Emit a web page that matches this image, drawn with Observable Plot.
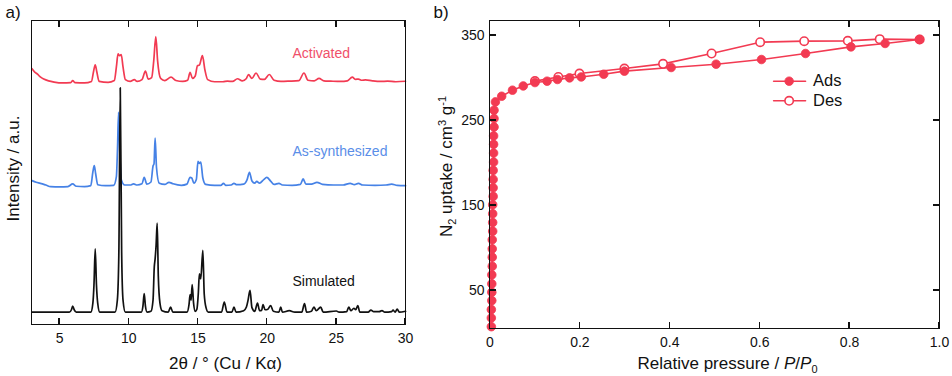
<!DOCTYPE html>
<html>
<head>
<meta charset="utf-8">
<script src="https://cdn.jsdelivr.net/npm/d3@7"></script>
<script src="https://cdn.jsdelivr.net/npm/@observablehq/plot@0.6"></script>
<style>
  html, body { margin: 0; padding: 0; background: #fff; }
  #wrap { position: relative; width: 952px; height: 376px; overflow: hidden; }
  .box { position: absolute; border: 1.6px solid #111; box-sizing: content-box; pointer-events: none; }
  .tk { position: absolute; background: #111; pointer-events: none; }
</style>
</head>
<body>
<div id="wrap"></div>
<script>
// ---------- Panel a) : PXRD patterns (2θ in degrees, intensity a.u. above each trace's baseline) ----------
const traceNames = ["Activated", "As-synthesized", "Simulated"];
const traceOffsets = [79.9, 45.7, 3.9];   // vertical stacking offsets (a.u.)
const xTicksA = [5, 10, 15, 20, 25, 30];
const xDomainA = [3, 30];
const yDomainA = [0, 100];

const activated = [
[3,4.4],[3.2,3.3],[3.4,2.6],[3.6,1.7],[3.85,1.0],[4.2,0.4],[4.6,0],[5.2,-0.3],[5.8,-0.2],[5.94,0.5],[6.1,-0.2],[6.8,-0.3],
[7.3,0.2],[7.45,3.5],[7.57,5.7],[7.68,3.5],[7.85,0.2],[8.5,-0.1],[8.95,0.5],[9.1,5],[9.22,9.3],[9.33,8.7],[9.45,9.1],[9.58,5],[9.75,0.8],
[10.1,0.2],[10.4,0.8],[10.6,0.2],[10.95,0.8],[11.2,3.6],[11.4,1.0],[11.65,1.5],[11.8,7],[11.95,15.0],[12.08,7],[12.3,1.2],[12.6,0.5],
[13.05,1.6],[13.4,0.5],[13.9,0.2],[14.25,0.6],[14.43,3.2],[14.6,1.2],[14.8,2],[14.96,5.4],[15.1,5.6],[15.32,8.7],[15.5,4],[15.7,0.8],
[16.2,0.1],[16.8,0.1],[17.13,0.3],[17.5,0.2],[17.85,1.1],[18.2,0.4],[18.5,1.2],[18.65,2.5],[18.9,1.2],[19.2,3.0],[19.5,1.0],[19.8,0.9],
[20.15,2.5],[20.5,0.6],[21.0,0.2],[21.6,0.3],[22.3,0.5],[22.66,3.0],[22.95,0.6],[23.4,0.4],[23.75,1.25],[24.1,0.4],[24.6,0.3],[25.3,0.2],
[25.8,0.4],[26.15,1.6],[26.4,0.9],[26.6,1.0],[26.85,0.6],[27.1,0.7],[27.6,0.4],[28.2,0.2],[28.7,0.3],[29.3,0.1],[30,0.26]
];

const asSynthesized = [
[3,1.65],[3.3,1.1],[3.6,0.76],[4.0,0.2],[4.35,-0.33],[5.0,-0.4],[5.6,-0.3],[5.94,0.56],[6.2,-0.2],[6.8,-0.3],[7.25,0],[7.4,4.5],[7.5,6.6],
[7.6,4.0],[7.75,0.3],[8.3,0],[8.9,0.1],[9.1,3],[9.18,12],[9.26,24.2],[9.34,12],[9.45,2],[9.7,0.2],[10.1,0.2],[10.34,0.6],[10.6,0.2],
[10.95,0.6],[11.11,2.7],[11.3,0.5],[11.6,1.2],[11.75,6.5],[11.82,7.2],[11.9,15.7],[12.0,6],[12.2,0.8],[12.6,0.4],[12.9,1.1],[13.2,0.6],
[13.8,0.1],[14.2,0.5],[14.43,2.7],[14.55,2.5],[14.7,0.8],[14.88,2],[15.0,8.0],[15.1,7.3],[15.2,7.8],[15.35,2.5],[15.55,0.4],[16.2,0.1],
[16.65,0.1],[16.84,0.76],[17.0,0.1],[17.4,0.2],[17.6,0.76],[17.8,0.3],[18.3,0.5],[18.55,2],[18.72,4.4],[18.9,1.5],[19.1,0.8],[19.25,1.4],
[19.45,0.8],[19.75,2],[19.97,2.7],[20.25,1.5],[20.5,0.4],[20.85,0.76],[21.1,0.2],[21.8,0.1],[22.4,0.4],[22.6,2.2],[22.8,0.5],[23.2,0.5],
[23.6,1.1],[24.0,0.4],[24.8,0.2],[25.5,0.2],[26.0,0.76],[26.3,0.3],[26.6,0.76],[26.9,0.2],[27.8,0.1],[28.6,0.2],[29.0,0.5],[29.4,0.1],[30,0]
];

const simulated = [
[3,0],[5.7,0],[5.85,0.8],[5.94,2.0],[6.05,0.8],[6.2,0],
[7.25,0],[7.4,3],[7.48,9],[7.57,20.9],[7.66,9],[7.75,3],[7.9,0],
[9.0,0],[9.17,4],[9.28,20],[9.38,74.1],[9.48,20],[9.58,4],[9.75,0],
[10.9,0],[11.02,2],[11.11,6.1],[11.2,2],[11.32,0],
[11.6,0.3],[11.75,4],[11.84,15],[11.9,17.6],[11.97,22],[12.05,29.4],[12.13,12],[12.25,3],[12.4,0.5],
[12.85,0],[13.02,1.7],[13.18,0],
[14.2,0],[14.35,2.5],[14.43,5.8],[14.5,4],[14.58,9.1],[14.68,3],[14.8,0.3],
[14.92,1],[15.02,6],[15.1,12.7],[15.2,11],[15.35,20.4],[15.45,6],[15.58,1.5],[15.75,0],
[16.7,0],[16.9,3.3],[17.1,0],
[17.45,0],[17.6,1.7],[17.75,0],
[18.3,0.5],[18.5,1.7],[18.62,4],[18.76,7.2],[18.9,1.5],[19.1,0.3],[19.3,3.0],[19.45,0.5],
[19.6,0.6],[19.7,2.5],[19.85,0.8],[20.05,1],[20.25,2.2],[20.45,0.3],
[20.85,0],[20.98,1.7],[21.1,0],[21.6,0.5],[22.0,0],
[22.5,0],[22.7,2.8],[22.85,0],
[23.2,0.3],[23.38,1.7],[23.55,0.5],[23.87,1.7],[24.05,0],
[25.0,0.4],[25.2,0],[25.75,0.2],[25.9,1.7],[26.05,0.5],[26.27,1.3],[26.4,0.8],[26.55,2.2],[26.7,0],
[27.3,0],[27.5,0.7],[27.7,0.2],[28.1,0.2],[28.3,0.5],[28.5,0],[29.0,0.2],[29.1,0.7],[29.25,0],[29.4,1.0],[29.55,0],[30,0.3]
];

// ---------- Panel b) : N2 isotherm ----------
const adsP = [0.003,0.003,0.003,0.004,0.004,0.004,0.004,0.005,0.005,0.005,0.005,0.006,0.006,0.006,0.006,0.007,0.007,0.007,0.007,
  0.008,0.008,0.008,0.008,0.009,0.009,0.009,0.012,0.026,0.050,0.074,0.100,0.127,0.150,0.177,0.203,0.253,0.299,0.403,0.503,0.604,0.702,0.803,0.879,0.955];
const adsV = [7.5,17.8,27.6,38.2,48.0,57.9,68.5,78.6,89.3,99.1,109.8,119.9,130.1,140.4,151.0,160.8,171.0,180.8,191.4,
  201.2,211.8,222.1,232.0,242.5,252.4,262.2,272.0,278.7,285.8,290.8,294.8,296.4,298.4,300.3,301.4,304.6,308.2,312.5,316.4,321.9,329.0,336.8,340.8,345.5];
const desP = [0.956,0.867,0.796,0.699,0.601,0.493,0.385,0.299,0.199,0.152,0.100];
const desV = [345.5,345.9,343.9,343.5,342.3,329.0,316.8,311.3,305.4,301.4,296.5];
const xTicksB = [0, 0.2, 0.4, 0.6, 0.8, 1.0];
const yTicksB = [50, 150, 250, 350];
const xDomainB = [0, 1];
const yDomainB = [5, 367];
const legendLabels = ["Ads", "Des"];

// ---------- styling ----------
const RED = "#f23a52";
const BLUE = "#4682e6";
const BLACK = "#111111";
const FONT = "'Liberation Sans', Arial, sans-serif";
const TICK_PX = 6;

const wrap = document.getElementById("wrap");

function toRows(arr, offset) { return arr.map(([t, v]) => ({t, y: v + offset})); }
const rowsAct = toRows(activated, traceOffsets[0]);
const rowsAs = toRows(asSynthesized, traceOffsets[1]);
const rowsSim = toRows(simulated, traceOffsets[2]);

const plotA = Plot.plot({
  width: 430, height: 376,
  marginLeft: 31.5, marginRight: 25, marginTop: 20.7, marginBottom: 52.5,
  x: {domain: xDomainA},
  y: {domain: yDomainA, axis: null},
  style: {fontFamily: FONT, fontSize: "14px", color: BLACK},
  marks: [
    Plot.line(rowsAct, {x: "t", y: "y", stroke: RED, strokeWidth: 1.7, curve: "monotone-x"}),
    Plot.line(rowsAs, {x: "t", y: "y", stroke: BLUE, strokeWidth: 1.7, curve: "monotone-x"}),
    Plot.line(rowsSim, {x: "t", y: "y", stroke: BLACK, strokeWidth: 1.7, curve: "monotone-x"}),
    Plot.axisX({anchor: "bottom", ticks: xTicksA, tickSize: 0, tickPadding: 8.7, label: null, tickFormat: d => String(d)}),
    Plot.text([traceNames[0]], {frameAnchor: "top-left", dx: 260.5, dy: 32.5, textAnchor: "start", lineAnchor: "middle", fontSize: 14, fill: "#f0506a"}),
    Plot.text([traceNames[1]], {frameAnchor: "top-left", dx: 260.5, dy: 130.5, textAnchor: "start", lineAnchor: "middle", fontSize: 14, fill: "#5a8ee8"}),
    Plot.text([traceNames[2]], {frameAnchor: "top-left", dx: 260.5, dy: 260.8, textAnchor: "start", lineAnchor: "middle", fontSize: 14, fill: BLACK}),
    Plot.text(["a)"], {frameAnchor: "top-left", dx: -26.5, dy: -8.6, textAnchor: "start", lineAnchor: "middle", fontSize: 17, fill: BLACK}),
    Plot.text(["2θ / ° (Cu / Kα)"], {frameAnchor: "bottom", dx: 6.75, dy: 39.1, textAnchor: "middle", lineAnchor: "middle", fontSize: 17, fill: BLACK}),
    Plot.text(["Intensity / a.u."], {frameAnchor: "left", dx: -18.5, dy: -4.1, rotate: -90, textAnchor: "middle", lineAnchor: "middle", fontSize: 17, fill: BLACK})
  ]
});
plotA.style.position = "absolute";
plotA.style.left = "0px";
plotA.style.top = "0px";
wrap.appendChild(plotA);

const ads = adsP.map((p, i) => ({p, v: adsV[i]}));
const des = desP.map((p, i) => ({p, v: desV[i]}));
// legend placement inside panel b (in data units)
const legend = [{label: legendLabels[0], v: 296.4, filled: true}, {label: legendLabels[1], v: 273.3, filled: false}];
const legX1 = 0.631, legX2 = 0.702, legXm = 0.6655, legXt = 0.7186;
const legendLines = legend.flatMap((d, i) => [{x: legX1, y: d.v, k: i}, {x: legX2, y: d.v, k: i}]);

const plotB = Plot.plot({
  width: 522, height: 376,
  marginLeft: 59.5, marginRight: 13, marginTop: 20.7, marginBottom: 47.7,
  x: {domain: xDomainB},
  y: {domain: yDomainB},
  style: {fontFamily: FONT, fontSize: "14px", color: BLACK},
  marks: [
    Plot.axisX({anchor: "bottom", ticks: xTicksB, tickSize: 0, tickPadding: 8, label: null,
      tickFormat: d => d === 0 ? "0" : d.toFixed(1)}),
    Plot.axisY({anchor: "left", ticks: yTicksB, tickSize: 0, tickPadding: 5.5, label: null, tickFormat: d => String(d)}),
    Plot.line(des, {x: "p", y: "v", stroke: RED, strokeWidth: 1.6}),
    Plot.line(ads, {x: "p", y: "v", stroke: RED, strokeWidth: 1.6}),
    Plot.dot(des, {x: "p", y: "v", r: 4.2, fill: "white", stroke: RED, strokeWidth: 1.6}),
    Plot.dot(ads, {x: "p", y: "v", r: 4.3, fill: RED, stroke: RED, strokeWidth: 0.8}),
    // legend
    Plot.line(legendLines, {x: "x", y: "y", z: "k", stroke: RED, strokeWidth: 1.6}),
    Plot.dot(legend.filter(d => d.filled), {x: legXm, y: "v", r: 4.3, fill: RED, stroke: RED, strokeWidth: 0.8}),
    Plot.dot(legend.filter(d => !d.filled), {x: legXm, y: "v", r: 4.2, fill: "white", stroke: RED, strokeWidth: 1.6}),
    Plot.text(legend, {x: legXt, y: "v", text: "label", textAnchor: "start", lineAnchor: "middle", fontSize: 16.5, fill: BLACK}),
    // titles
    Plot.text(["b)"], {frameAnchor: "top-left", dx: -56.5, dy: -8.6, textAnchor: "start", lineAnchor: "middle", fontSize: 17, fill: BLACK}),
    Plot.text(["Relative pressure / P/P0"], {frameAnchor: "bottom", dx: 12.75, dy: 34.3, textAnchor: "middle", lineAnchor: "middle", fontSize: 17, fill: BLACK}),
    Plot.text(["N2 uptake / cm3 g-1"], {frameAnchor: "left", dx: -43.5, dy: -8.5, rotate: -90, textAnchor: "middle", lineAnchor: "middle", fontSize: 17, fill: BLACK})
  ]
});
plotB.style.position = "absolute";
plotB.style.left = "430px";
plotB.style.top = "0px";
wrap.appendChild(plotB);

// rich text (italics, sub/superscripts) for the panel-b axis titles
for (const t of plotB.querySelectorAll("text")) {
  if (t.textContent === "Relative pressure / P/P0") {
    t.innerHTML = 'Relative pressure / <tspan font-style="italic">P</tspan>/<tspan font-style="italic">P</tspan><tspan font-size="11" dy="4">0</tspan>';
  } else if (t.textContent === "N2 uptake / cm3 g-1") {
    t.innerHTML = 'N<tspan font-size="11" dy="4">2</tspan><tspan dy="-4"> uptake / cm</tspan><tspan font-size="11" dy="-6">3</tspan><tspan dy="6"> g</tspan><tspan font-size="11" dy="-6">-1</tspan>';
  }
}

// ---------- plot frames and inward ticks, placed with each plot's own scales ----------
function frameAndTicks(plot, offsetX, xTicks, yTicks) {
  const sx = plot.scale("x"), sy = plot.scale("y");
  const [dx0, dx1] = sx.domain, [dy0, dy1] = sy.domain;
  const x0 = offsetX + sx.apply(dx0), x1 = offsetX + sx.apply(dx1);
  const yTop = sy.apply(dy1), yBot = sy.apply(dy0);
  const box = document.createElement("div");
  box.className = "box";
  Object.assign(box.style, {left: (x0 - 0.8) + "px", top: (yTop - 0.8) + "px", width: (x1 - x0) + "px", height: (yBot - yTop) + "px"});
  wrap.appendChild(box);
  const add = (l, t, w, h) => {
    const d = document.createElement("div");
    d.className = "tk";
    Object.assign(d.style, {left: l + "px", top: t + "px", width: w + "px", height: h + "px"});
    wrap.appendChild(d);
  };
  for (const v of xTicks) {
    const x = offsetX + sx.apply(v);
    add(x - 0.7, yBot - TICK_PX, 1.4, TICK_PX);
    add(x - 0.7, yTop, 1.4, TICK_PX);
  }
  for (const v of yTicks) {
    const y = sy.apply(v);
    add(x0, y - 0.7, TICK_PX, 1.4);
    add(x1 - TICK_PX, y - 0.7, TICK_PX, 1.4);
  }
}
frameAndTicks(plotA, 0, xTicksA, []);
frameAndTicks(plotB, 430, xTicksB, yTicksB);
</script>
</body>
</html>
